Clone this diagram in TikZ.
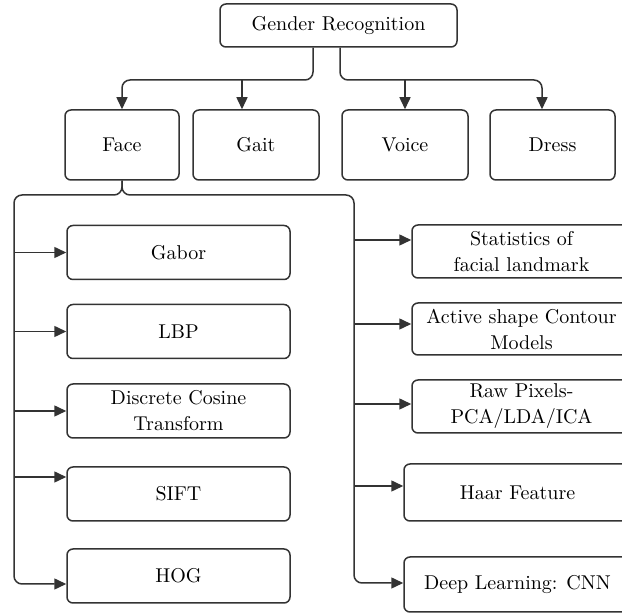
\documentclass[tikz,border=0pt]{standalone}
\usetikzlibrary{arrows.meta}
\colorlet{linec}{black!80}
\tikzset{
  box/.style={draw=linec, line width=0.75pt, rounded corners=3pt, align=center, inner sep=0pt,
    font=\fontsize{10}{13}\selectfont},
  arr/.style={draw=linec, line width=0.75pt, -{Triangle[length=6pt,width=5.5pt]}},
  trunk/.style={rounded corners=4pt}
}
\begin{document}
\begin{tikzpicture}[x=0.5pt,y=-0.5pt]
\useasboundingbox (0,0) rectangle (622,614);
\clip (0,0) rectangle (622,614);
% top levels
\node[box, minimum width=118.5pt, minimum height=21.5pt] (gender) at (338.5,25.5) {Gender Recognition};
\node[box, minimum width=57pt, minimum height=35pt] (face) at (122,145) {Face};
\node[box, minimum width=63pt, minimum height=35pt] (gait) at (256,145) {Gait};
\node[box, minimum width=63pt, minimum height=35pt] (voice) at (405,145) {Voice};
\node[box, minimum width=62.5pt, minimum height=35pt] (dress) at (552.5,145) {Dress};
% left column
\node[box, minimum width=111.5pt, minimum height=27pt] (gabor) at (178.5,252.5) {Gabor};
\node[box, minimum width=111.5pt, minimum height=27pt] (lbp) at (178.5,331.5) {LBP};
\node[box, minimum width=111.5pt, minimum height=27pt] (dct) at (178.5,411) {Discrete Cosine\\Transform};
\node[box, minimum width=111.5pt, minimum height=27pt] (sift) at (178.5,494) {SIFT};
\node[box, minimum width=111.5pt, minimum height=27pt] (hog) at (178.5,576) {HOG};
% right column
\node[box, minimum width=109.5pt, minimum height=26.5pt] (stat) at (521.5,251.5) {Statistics of\\facial landmark};
\node[box, minimum width=109.5pt, minimum height=26pt] (active) at (521.5,329) {Active shape Contour\\Models};
\node[box, minimum width=109.5pt, minimum height=26.5pt] (raw) at (521.5,406.5) {Raw Pixels-\\PCA/LDA/ICA};
\node[box, minimum width=113.5pt, minimum height=28.5pt] (haar) at (517.5,492.5) {Haar Feature};
\node[box, minimum width=113.5pt, minimum height=27.5pt] (deep) at (517.5,584.5) {Deep Learning: CNN};
% connectors
\coordinate (gl) at (313,80);
\coordinate (gr) at (340,80);
\coordinate (gaitin) at (242,80);
\coordinate (dressin) at (542,80);
\coordinate (lt) at (14,195);
\coordinate (rt) at (354,195);
\draw[arr, trunk] (gender.south -| gl) -- (gl) -| (face.north);
\draw[arr] (gaitin) -- (gaitin |- gait.north);
\draw[arr, trunk] (gender.south -| gr) -- (gr) -- (dressin) -- (dressin |- dress.north);
\draw[arr] (voice.north |- gr) -- (voice.north);
\draw[arr, trunk] (face.south) |- (lt) |- ([yshift=-4pt]hog.west);
\draw[arr, trunk] (face.south) |- (rt) |- ([yshift=0.75pt]deep.west);
\foreach \n/\s in {gabor/0, lbp/0, dct/0, sift/8.5}{
  \path ([yshift=\s pt]\n.west) coordinate (tip);
  \draw[arr] (tip -| lt) -- (tip);
}
\foreach \n/\s in {stat/5.75, active/2.5, raw/1.25, haar/3.25}{
  \path ([yshift=\s pt]\n.west) coordinate (tip);
  \draw[arr] (tip -| rt) -- (tip);
}
\end{tikzpicture}
\end{document}
